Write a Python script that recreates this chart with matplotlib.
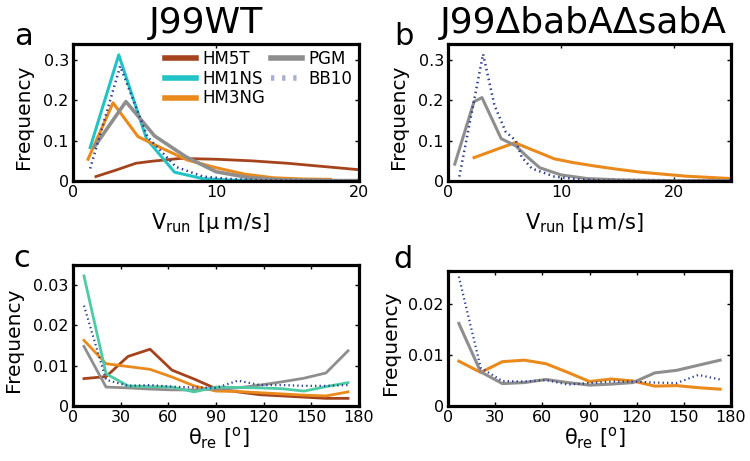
import matplotlib
matplotlib.use("Agg")
import matplotlib.pyplot as plt

plt.rcParams['font.family'] = ['DejaVu Sans']
plt.rcParams['mathtext.default'] = 'regular'

# ==============================
# DATA
# ==============================
# panel a : J99WT, run speed
a_hm5t_x = [1.6, 3.0, 4.4, 5.5, 7.5, 10.0, 12.5, 15.0, 17.5, 20.0]
a_hm5t_y = [0.011, 0.027, 0.044, 0.049, 0.056, 0.054, 0.050, 0.044, 0.036, 0.028]
a_hm1ns_x = [1.2, 3.2, 5.15, 7.1, 9.05, 11.0, 13.0]
a_hm1ns_y = [0.083, 0.313, 0.104, 0.022, 0.006, 0.002, 0.001]
a_hm3ng_x = [1.05, 2.8, 4.55, 6.3, 8.0, 10.0, 12.0, 14.0, 16.0, 18.0]
a_hm3ng_y = [0.054, 0.194, 0.110, 0.080, 0.052, 0.033, 0.017, 0.008, 0.005, 0.004]
a_pgm_x = [1.5, 3.7, 5.7, 7.9, 10.0, 12.2, 14.4, 16.6, 18.8, 20.0]
a_pgm_y = [0.085, 0.197, 0.112, 0.060, 0.023, 0.009, 0.003, 0.002, 0.001, 0.001]
a_bb10_x = [1.2, 3.3, 5.2, 7.2, 9.1, 11.0, 13.0, 15.0, 17.0, 19.0, 20.0]
a_bb10_y = [0.031, 0.285, 0.110, 0.035, 0.011, 0.005, 0.002, 0.001, 0.0, 0.0, 0.0]

# panel b : J99 babA sabA, run speed
b_hm3ng_x = [2.3, 5.9, 9.4, 11.0, 13.0, 15.0, 17.0, 19.0, 21.0, 23.0, 25.0]
b_hm3ng_y = [0.058, 0.095, 0.055, 0.046, 0.037, 0.029, 0.022, 0.017, 0.012, 0.009, 0.006]
b_pgm_x = [0.6, 2.3, 3.0, 4.7, 6.0, 7.0, 8.1, 10.0, 12.3, 15.0, 20.0, 25.0]
b_pgm_y = [0.042, 0.197, 0.207, 0.105, 0.087, 0.060, 0.033, 0.015, 0.006, 0.003, 0.001, 0.001]
b_bb10_x = [1.0, 3.1, 4.1, 5.1, 6.0, 6.5, 7.4, 9.4, 11.5, 14.0, 25.0]
b_bb10_y = [0.011, 0.315, 0.188, 0.122, 0.100, 0.060, 0.031, 0.011, 0.004, 0.001, 0.0]

# panels c, d : reorientation angle histogram (bin centres)
theta = [6.9, 20.8, 34.6, 48.5, 62.3, 76.2, 90.0, 103.8, 117.7, 131.5, 145.4, 159.2, 173.1]
c_hm5t = [0.0068, 0.0073, 0.0123, 0.0141, 0.0089, 0.0067, 0.0043, 0.0035, 0.0028, 0.0025, 0.0022, 0.0019, 0.0019]
c_hm1ns = [0.0323, 0.0080, 0.0050, 0.0048, 0.0047, 0.0035, 0.0047, 0.0046, 0.0045, 0.0043, 0.0037, 0.0048, 0.0058]
c_hm3ng = [0.0163, 0.0105, 0.0098, 0.0091, 0.0072, 0.0050, 0.0037, 0.0036, 0.0033, 0.0030, 0.0027, 0.0025, 0.0035]
c_pgm = [0.0148, 0.0047, 0.0045, 0.0042, 0.0040, 0.0040, 0.0042, 0.0045, 0.0052, 0.0060, 0.0069, 0.0082, 0.0137]
c_bb10 = [0.0249, 0.0065, 0.0050, 0.0052, 0.0048, 0.0046, 0.0045, 0.0063, 0.0052, 0.0052, 0.0050, 0.0050, 0.0052]
d_hm3ng = [0.0088, 0.0066, 0.0087, 0.0090, 0.0083, 0.0066, 0.0048, 0.0053, 0.0049, 0.0039, 0.0040, 0.0036, 0.0033]
d_pgm = [0.0162, 0.0067, 0.0044, 0.0046, 0.0052, 0.0046, 0.0041, 0.0043, 0.0046, 0.0065, 0.0070, 0.0080, 0.0090]
d_bb10 = [0.0254, 0.0075, 0.0049, 0.0048, 0.0051, 0.0042, 0.0045, 0.0048, 0.0048, 0.0046, 0.0045, 0.0061, 0.0052]

v_ticks_a = [0, 10, 20]
v_ticks_b = [0, 10, 20]
th_ticks = [0, 30, 60, 90, 120, 150, 180]
fa_ticks = [0, 0.1, 0.2, 0.3]
fa_labels = ["0", "0.1", "0.2", "0.3"]
fc_ticks = [0, 0.01, 0.02, 0.03]
fc_labels = ["0", "0.01", "0.02", "0.03"]
fd_ticks = [0, 0.01, 0.02]
fd_labels = ["0", "0.01", "0.02"]

# ==============================
# STYLE
# ==============================
C_HM5T = "#a5441c"
C_HM1NS = "#22c3c6"
C_HM1NS_C = "#4ecba6"
C_HM3NG = "#ea8a1c"
C_PGM = "#8e8e8e"
C_BB10 = "#2c3d92"
DOT = (0, (0.6, 1.4))

fig = plt.figure(figsize=(7.5, 4.61), dpi=100)
W, H = 750.0, 461.0

def px_axes(left, top, right, bottom):
    return fig.add_axes([left / W, 1 - bottom / H, (right - left) / W, (bottom - top) / H])

ax_a = px_axes(73, 44, 359, 181)
ax_b = px_axes(448, 44, 731, 181)
ax_c = px_axes(73, 265, 359, 406)
ax_d = px_axes(448, 271, 731, 406)

def frame(ax):
    for s in ax.spines.values():
        s.set_linewidth(2.3)
    ax.tick_params(direction="in", length=3, width=1, top=True, right=True,
                   labelsize=11.5, pad=3)

# ---- a ----
ax_a.plot(a_hm5t_x, a_hm5t_y, color=C_HM5T, lw=2.0, label="HM5T")
ax_a.plot(a_hm1ns_x, a_hm1ns_y, color=C_HM1NS, lw=2.2, label="HM1NS")
ax_a.plot(a_hm3ng_x, a_hm3ng_y, color=C_HM3NG, lw=2.2, label="HM3NG")
ax_a.plot(a_pgm_x, a_pgm_y, color=C_PGM, lw=2.6, label="PGM")
ax_a.plot(a_bb10_x, a_bb10_y, color=C_BB10, lw=1.8, ls=DOT, label="BB10")
ax_a.set_xlim(0, 20)
ax_a.set_ylim(0, 0.34)
ax_a.set_xticks(v_ticks_a)
ax_a.set_yticks(fa_ticks)
ax_a.set_yticklabels(fa_labels)
leg = ax_a.legend(ncol=2, loc="upper left", bbox_to_anchor=(0.32, 0.955), frameon=False,
                  fontsize=12, handlelength=1.9, handletextpad=0.35, columnspacing=0.35,
                  labelspacing=0.1, borderpad=0, borderaxespad=0)
for h in leg.legend_handles:
    h.set_linewidth(4)
leg.legend_handles[4].set_color("#a9afd2")

# ---- b ----
ax_b.plot(b_hm3ng_x, b_hm3ng_y, color=C_HM3NG, lw=2.2)
ax_b.plot(b_pgm_x, b_pgm_y, color=C_PGM, lw=2.2)
ax_b.plot(b_bb10_x, b_bb10_y, color=C_BB10, lw=1.8, ls=DOT)
ax_b.set_xlim(0, 25)
ax_b.set_ylim(0, 0.34)
ax_b.set_xticks(v_ticks_b)
ax_b.set_yticks(fa_ticks)
ax_b.set_yticklabels(fa_labels)

# ---- c ----
ax_c.plot(theta, c_hm5t, color=C_HM5T, lw=2.0)
ax_c.plot(theta, c_hm3ng, color=C_HM3NG, lw=2.0)
ax_c.plot(theta, c_pgm, color=C_PGM, lw=2.0)
ax_c.plot(theta, c_hm1ns, color=C_HM1NS_C, lw=2.0)
ax_c.plot(theta, c_bb10, color=C_BB10, lw=1.6, ls=DOT)
ax_c.set_xlim(0, 180)
ax_c.set_ylim(0, 0.035)
ax_c.set_xticks(th_ticks)
ax_c.set_yticks(fc_ticks)
ax_c.set_yticklabels(fc_labels)

# ---- d ----
ax_d.plot(theta, d_hm3ng, color=C_HM3NG, lw=2.2)
ax_d.plot(theta, d_pgm, color=C_PGM, lw=2.2)
ax_d.plot(theta, d_bb10, color=C_BB10, lw=1.6, ls=DOT)
ax_d.set_xlim(0, 180)
ax_d.set_ylim(0, 0.0265)
ax_d.set_xticks(th_ticks)
ax_d.set_yticks(fd_ticks)
ax_d.set_yticklabels(fd_labels)

v_label = "V$_{run}$ [μ\u2009m/s]"
th_label = r"$\theta_{re}$ [$^{o}$]"
for ax, xl, lx, ly, yx in [(ax_a, v_label, 0.48, -0.22, -0.14),
                           (ax_b, v_label, 0.48, -0.22, -0.14),
                           (ax_c, th_label, 0.51, -0.14, -0.175),
                           (ax_d, th_label, 0.52, -0.14, -0.17)]:
    frame(ax)
    ax.set_xlabel(xl, fontsize=15)
    ax.xaxis.set_label_coords(lx, ly)
    ax.set_ylabel("Frequency", fontsize=14.5)
    ax.yaxis.set_label_coords(yx, 0.47)

# titles and panel letters
fig.text(206 / W, 1 - 33 / H, "J99WT", fontsize=26, ha="center", va="baseline")
fig.text(583 / W, 1 - 33 / H, "J99ΔbabAΔsabA", fontsize=26, ha="center", va="baseline")
for s, x, y in [("a", 14, 45), ("b", 394, 45), ("c", 13, 267), ("d", 393, 268)]:
    fig.text(x / W, 1 - y / H, s, fontsize=22, ha="left", va="baseline")

fig.savefig("out.png", dpi=100)
